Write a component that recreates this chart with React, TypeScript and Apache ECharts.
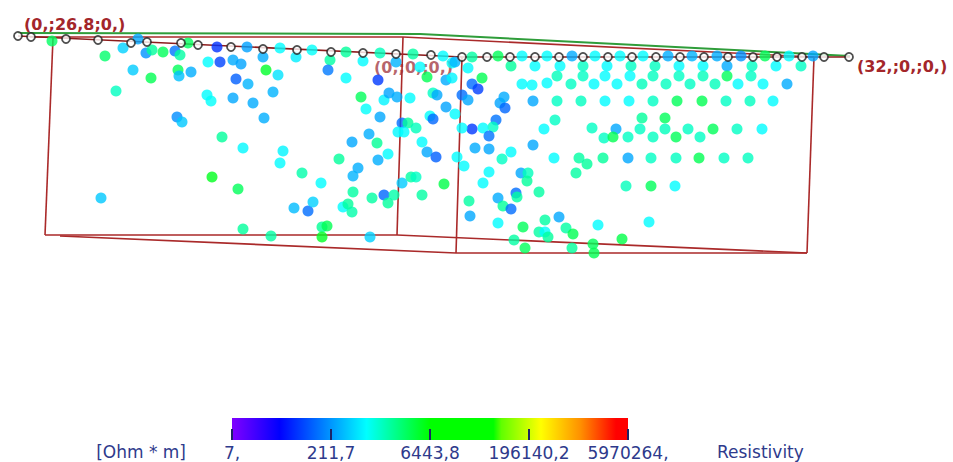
import React, { useEffect, useRef } from "react";
import * as echarts from "echarts";

// Electrode positions along the profile (drawing-plane units)
const electrodes: [number, number][] = [
  [18, 36], [31, 37], [66, 39], [98, 40], [131, 43], [147, 42], [181, 43], [198, 45],
  [231, 47], [263, 49], [297, 50], [331, 52], [363, 53], [396, 54], [431, 55], [462, 57],
  [487, 57], [510, 57], [535, 57], [559, 57], [583, 57], [608, 57], [632, 57], [656, 57],
  [680, 57], [704, 57], [728, 57], [753, 57], [777, 57], [802, 57], [824, 57], [849, 57],
];

// Frame / fence outline polylines
const surfaceLine = [[18, 33], [420, 34], [850, 56]];
const topEdge = [[30, 37], [403, 37], [814, 57]];
const electrodeLine = [[18, 36], [462, 57], [850, 57]];
const leftEdge = [[53, 38], [45, 235]];
const cornerEdge = [[403, 37], [397, 235]];
const junctionEdge = [[462, 57], [456, 253]];
const rightEdge = [[814, 57], [807, 253]];
const bottomEdgeA = [[45, 235], [397, 235], [807, 253]];
const bottomEdgeB = [[60, 236], [456, 253], [807, 253]];

// Measurement points: [x, y, resistivity Ohm*m]
const leftDots: number[][] = [
  [52, 41, 2800], [105, 56, 2600], [123, 48, 420], [138, 39, 260], [146, 53, 200], [152, 50, 1700],
  [163, 52, 3000], [175, 51, 140], [180, 55, 1600], [188, 43, 2900], [217, 47, 65], [247, 47, 240],
  [280, 48, 700], [312, 50, 760], [208, 62, 720], [220, 62, 80], [233, 60, 270], [241, 64, 250],
  [263, 57, 280], [296, 57, 600], [133, 70, 400], [151, 78, 3200], [178, 70, 3000], [179, 76, 350],
  [191, 72, 280], [236, 79, 110], [248, 84, 300], [266, 70, 4500], [278, 75, 520], [116, 91, 1250],
  [207, 95, 700], [211, 101, 750], [233, 98, 260], [253, 103, 270], [273, 92, 300], [177, 117, 190],
  [182, 122, 380], [264, 118, 280], [222, 137, 1700], [243, 148, 680], [283, 151, 650], [280, 163, 700],
  [302, 173, 1500], [212, 177, 5000], [238, 189, 3000], [101, 198, 380], [294, 208, 330], [308, 211, 130],
  [313, 202, 420], [321, 183, 720], [243, 229, 1700], [271, 236, 1600], [322, 227, 1800], [327, 226, 3200],
  [322, 237, 4800],
];

const middleDots: number[][] = [
  [330, 60, 1600], [328, 70, 150], [346, 52, 1700], [346, 78, 720], [363, 61, 700], [380, 53, 1300],
  [378, 80, 70], [361, 97, 3000], [366, 109, 750], [380, 117, 260], [384, 100, 650], [389, 93, 250],
  [397, 97, 280], [410, 98, 700], [396, 62, 300], [413, 54, 1600], [427, 77, 3200], [443, 56, 700],
  [446, 80, 270], [452, 63, 720], [452, 78, 650], [455, 62, 300], [420, 67, 700], [433, 93, 1200],
  [437, 95, 260], [446, 107, 250], [455, 114, 700], [430, 116, 750], [433, 119, 120], [402, 123, 130],
  [408, 123, 1700], [416, 128, 1300], [398, 132, 680], [404, 132, 720], [352, 142, 260], [369, 134, 280],
  [377, 143, 1800], [388, 154, 700], [378, 160, 280], [339, 159, 1700], [422, 142, 700], [427, 152, 260],
  [436, 157, 110], [457, 157, 720], [358, 168, 280], [353, 176, 300], [353, 192, 1600], [343, 207, 700],
  [348, 204, 1700], [352, 212, 1500], [372, 198, 1600], [384, 195, 120], [388, 203, 1700], [394, 195, 1500],
  [402, 183, 400], [411, 177, 1600], [416, 177, 1200], [422, 195, 1600], [444, 184, 3500], [464, 166, 700],
  [370, 237, 420],
];

const junctionDots: number[][] = [
  [472, 57, 1600], [468, 68, 700], [482, 78, 3200], [472, 84, 130], [478, 89, 75], [462, 95, 130],
  [468, 100, 260], [500, 103, 250], [505, 108, 120], [504, 97, 270], [496, 120, 140], [493, 127, 1200],
  [483, 128, 700], [472, 129, 70], [489, 136, 140], [462, 128, 700], [475, 148, 270], [489, 149, 260],
  [511, 152, 700], [502, 159, 1200], [533, 145, 260], [555, 120, 1200], [544, 129, 700], [489, 172, 700],
  [483, 183, 720], [521, 173, 260], [528, 173, 1300], [527, 181, 1700], [539, 192, 1600], [587, 164, 1700],
  [576, 173, 1600], [469, 201, 1600], [470, 216, 260], [498, 198, 270], [503, 206, 1700], [511, 209, 130],
  [516, 193, 130], [517, 197, 1600], [498, 223, 700], [523, 227, 3000], [545, 220, 1600], [559, 217, 260],
  [539, 232, 1600], [545, 232, 720], [548, 237, 1700], [566, 228, 1600], [573, 234, 3200], [598, 225, 700],
  [514, 240, 1600], [525, 248, 3000], [572, 248, 1700], [593, 244, 3000], [594, 253, 3200], [622, 239, 3500],
];

const rightDots: number[][] = [
  [498, 56, 3000], [522, 56, 700], [547, 56, 720], [572, 56, 270], [595, 56, 700], [620, 56, 720],
  [643, 56, 700], [668, 56, 280], [692, 56, 300], [717, 56, 280], [741, 56, 200], [765, 56, 3000],
  [789, 56, 700], [813, 56, 260],
  [511, 66, 1700], [535, 66, 700], [560, 66, 720], [583, 66, 1200], [607, 66, 700], [631, 66, 1200],
  [655, 66, 1250], [679, 66, 700], [703, 66, 720], [727, 66, 270], [752, 66, 1200], [776, 66, 700],
  [801, 66, 1200],
  [557, 76, 1300], [583, 76, 1200], [605, 76, 700], [630, 76, 720], [653, 76, 1250], [679, 76, 1200],
  [703, 76, 1300], [727, 76, 3000], [751, 76, 1200],
  [522, 84, 700], [532, 85, 720], [547, 83, 700], [571, 84, 1200], [594, 84, 700], [617, 84, 720],
  [642, 84, 1300], [666, 84, 1250], [690, 84, 1200], [715, 84, 1300], [738, 84, 700], [763, 84, 720],
  [787, 84, 270],
  [533, 101, 260], [557, 101, 1200], [581, 101, 1250], [605, 101, 700], [629, 101, 720], [653, 101, 1200],
  [677, 101, 3000], [702, 101, 3200], [726, 101, 1200], [750, 101, 1250], [773, 101, 700],
  [642, 118, 1700], [665, 118, 3000],
  [592, 128, 1200], [616, 129, 260], [640, 129, 1200], [665, 129, 1300], [688, 129, 1200], [713, 129, 3000],
  [737, 129, 1200], [762, 129, 700],
  [604, 138, 1200], [613, 137, 3200], [628, 137, 1200], [653, 137, 1250], [676, 137, 3000], [700, 137, 1200],
  [554, 158, 700], [579, 158, 1600], [603, 158, 1700], [628, 158, 260], [651, 158, 1200], [676, 158, 1250],
  [699, 158, 3200], [724, 158, 1200], [748, 158, 1250],
  [626, 186, 1300], [651, 186, 3000], [675, 186, 700],
  [649, 222, 700],
];

// Colour scale
const scaleMin = 7;
const scaleMax = 5970264;
const tickLabels = ["7,", "211,7", "6443,8", "196140,2", "5970264,"];
const colorStops: [number, string][] = [
  [0, "#8000ff"], [0.12, "#0000ff"], [0.34, "#00ffff"], [0.5, "#00ff00"], [0.66, "#00ff00"],
  [0.68, "#60ff00"], [0.78, "#ffff00"], [0.88, "#ff9000"], [0.97, "#ff0000"], [1, "#ff0000"],
];

const FONT = "DejaVu Sans";

function hexToRgb(h: string) {
  return [parseInt(h.slice(1, 3), 16), parseInt(h.slice(3, 5), 16), parseInt(h.slice(5, 7), 16)];
}
function colorAt(t: number) {
  for (let i = 1; i < colorStops.length; i++) {
    const [p1, c1] = colorStops[i];
    const [p0, c0] = colorStops[i - 1];
    if (t <= p1) {
      const k = p1 === p0 ? 0 : (t - p0) / (p1 - p0);
      const a = hexToRgb(c0), b = hexToRgb(c1);
      const r = a.map((v, j) => Math.round(v + (b[j] - v) * k));
      return `rgb(${r[0]},${r[1]},${r[2]})`;
    }
  }
  return colorStops[colorStops.length - 1][1];
}

export default function App() {
  const ref = useRef<HTMLDivElement>(null);
  useEffect(() => {
    if (!ref.current) return;
    const chart = echarts.init(ref.current, undefined, { renderer: "svg" });
    const sampled: string[] = [];
    for (let i = 0; i <= 200; i++) sampled.push(colorAt(i / 200));
    const toLog = (arr: number[][]) => arr.map((d) => [d[0], d[1], Math.log10(d[2])]);
    const redLine = { color: "#aa2a2a", width: 1.6 };
    const mkLine = (data: number[][], style: any) => ({
      type: "line",
      data,
      symbol: "none",
      silent: true,
      z: 1,
      lineStyle: style,
      xAxisIndex: 0,
      yAxisIndex: 0,
    });
    const lineSeries = [
      mkLine(surfaceLine, { color: "#2f9d3a", width: 2 }),
      mkLine(topEdge, redLine),
      mkLine(electrodeLine, { color: "#8c1c1c", width: 1.6 }),
      mkLine(leftEdge, redLine),
      mkLine(cornerEdge, redLine),
      mkLine(junctionEdge, redLine),
      mkLine(rightEdge, redLine),
      mkLine(bottomEdgeA, redLine),
      mkLine(bottomEdgeB, redLine),
    ];
    const dotGroups = [leftDots, middleDots, junctionDots, rightDots];
    const dotSeries = dotGroups.map((g) => ({
      type: "scatter",
      data: toLog(g),
      symbol: "circle",
      symbolSize: 11,
      z: 3,
      silent: true,
      xAxisIndex: 0,
      yAxisIndex: 0,
    }));
    const dotIdx = dotSeries.map((_, i) => lineSeries.length + i);
    const gradient = new echarts.graphic.LinearGradient(
      0, 0, 1, 0,
      colorStops.map(([offset, color]) => ({ offset, color }))
    );
    const navy = "#2e3a8c";
    chart.setOption({
      animation: false,
      backgroundColor: "#ffffff",
      grid: [
        { left: 0, top: 0, width: 953, height: 462 },
        { left: 232, top: 418, width: 396, height: 22, show: true, backgroundColor: gradient, borderWidth: 0 },
      ],
      xAxis: [
        { gridIndex: 0, type: "value", min: 0, max: 953, show: false },
        {
          gridIndex: 1, type: "value", min: 0, max: 4, interval: 1,
          axisLine: { show: false },
          splitLine: { show: false },
          axisTick: { inside: true, length: 11, lineStyle: { color: "#1c2466", width: 2 } },
          axisLabel: {
            formatter: (v: number) => tickLabels[Math.round(v)] ?? "",
            color: navy, fontSize: 17, fontFamily: FONT, margin: 4,
            showMinLabel: true, showMaxLabel: true, hideOverlap: false,
          },
        },
      ],
      yAxis: [
        { gridIndex: 0, type: "value", min: 0, max: 462, inverse: true, show: false },
        { gridIndex: 1, type: "value", min: 0, max: 1, show: false },
      ],
      visualMap: {
        type: "continuous",
        show: false,
        dimension: 2,
        seriesIndex: dotIdx,
        min: Math.log10(scaleMin),
        max: Math.log10(scaleMax),
        inRange: { color: sampled },
      },
      graphic: [
        {
          type: "text", x: 24, y: 24, z: 10,
          style: { text: "(0,;26,8;0,)", fill: "#a3262a", font: `bold 16px '${FONT}'`, textVerticalAlign: "middle" },
        },
        {
          type: "text", x: 857, y: 66, z: 10,
          style: { text: "(32,;0,;0,)", fill: "#a3262a", font: `bold 16px '${FONT}'`, textVerticalAlign: "middle" },
        },
        {
          type: "text", x: 374, y: 67, z: 0,
          style: { text: "(0,;0,;0,)", fill: "rgba(160,50,60,0.75)", font: `bold 16px '${FONT}'`, textVerticalAlign: "middle" },
        },
        {
          type: "text", x: 186, y: 452, z: 10,
          style: { text: "[Ohm * m]", fill: navy, font: `17px '${FONT}'`, textAlign: "right", textVerticalAlign: "middle" },
        },
        {
          type: "text", x: 717, y: 452, z: 10,
          style: { text: "Resistivity", fill: navy, font: `17px '${FONT}'`, textVerticalAlign: "middle" },
        },
      ],
      series: [
        ...lineSeries,
        ...dotSeries,
        {
          type: "scatter",
          data: electrodes,
          symbol: "circle",
          symbolSize: 8,
          z: 5,
          silent: true,
          xAxisIndex: 0,
          yAxisIndex: 0,
          itemStyle: { color: "#ffffff", borderColor: "#222222", borderWidth: 1.8 },
        },
      ],
    });
    return () => chart.dispose();
  }, []);
  return (
    <div
      ref={ref}
      style={{ position: "absolute", left: 0, top: 0, width: 953, height: 462, background: "#fff" }}
    />
  );
}
